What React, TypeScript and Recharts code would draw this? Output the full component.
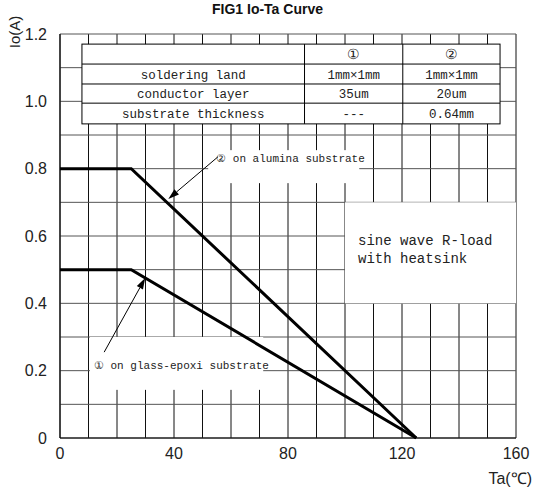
import React from "react";
import {
  LineChart,
  Line,
  XAxis,
  YAxis,
  CartesianGrid,
  ReferenceArea,
  ReferenceLine,
} from "recharts";

const temps = [0, 25, 125];
const alumina = [0.8, 0.8, 0];
const glassEpoxi = [0.5, 0.5, 0];

const xTicks = [0, 10, 20, 30, 40, 50, 60, 70, 80, 90, 100, 110, 120, 130, 140, 150, 160];
const xLabels = [0, 40, 80, 120, 160];
const yTicks = [0, 0.1, 0.2, 0.3, 0.4, 0.5, 0.6, 0.7, 0.8, 0.9, 1.0, 1.1, 1.2];
const yLabels = ["0", "", "0.2", "", "0.4", "", "0.6", "", "0.8", "", "1.0", "", "1.2"];

const tableHead = ["", "①", "②"];
const tableRows = [
  ["soldering land", "1mm×1mm", "1mm×1mm"],
  ["conductor layer", "35um", "20um"],
  ["substrate thickness", "---", "0.64mm"],
];

const data = temps.map((t, i) => ({ ta: t, a: alumina[i], g: glassEpoxi[i] }));

const mono = "'Liberation Mono', 'DejaVu Sans Mono', monospace";
const sans = "'Liberation Sans', Arial, sans-serif";

function TableShape(p: any) {
  const { x, y, width: w, height: h } = p;
  const rowY = [0, 0.25, 0.5, 0.74, 1].map((f) => y + f * h);
  const colX = [x, x + (w * 222) / 417, x + (w * 320) / 417, x + w];
  const all = [tableHead, ...tableRows];
  return (
    <g>
      <rect x={x} y={y} width={w} height={h} fill="#fff" stroke="#000" />
      {rowY.slice(1, 4).map((ry, i) => (
        <line key={i} x1={x} x2={x + w} y1={ry} y2={ry} stroke="#000" />
      ))}
      <line x1={colX[1]} x2={colX[1]} y1={y} y2={y + h} stroke="#000" />
      <line x1={colX[2]} x2={colX[2]} y1={y} y2={y + h} stroke="#000" />
      {all.map((row, r) =>
        row.map((cell, c) => (
          <text
            key={r + "-" + c}
            x={(colX[c] + colX[c + 1]) / 2}
            y={(rowY[r] + rowY[r + 1]) / 2 + 4.5}
            textAnchor="middle"
            fontFamily={mono}
            fontSize={r === 0 ? 14 : c === 0 ? 12.5 : 12.5}
            fill="#222"
          >
            {cell}
          </text>
        ))
      )}
    </g>
  );
}

function boxWithText(lines: string[], dx: number, dy: number, size: number, lh: number) {
  return (p: any) => (
    <g>
      <rect x={p.x} y={p.y} width={p.width} height={p.height} fill="#fff" />
      {lines.map((s, i) => (
        <text key={i} x={p.x + dx} y={p.y + dy + i * lh} fontFamily={mono} fontSize={size} fill="#222">
          {s}
        </text>
      ))}
    </g>
  );
}

function Arrow(p: any) {
  const { x1, y1, x2, y2 } = p;
  const ang = Math.atan2(y2 - y1, x2 - x1);
  const L = 11;
  const W = 3.5;
  const bx = x2 - L * Math.cos(ang);
  const by = y2 - L * Math.sin(ang);
  const nx = -Math.sin(ang) * W;
  const ny = Math.cos(ang) * W;
  return (
    <g>
      <line x1={x1} y1={y1} x2={bx} y2={by} stroke="#000" strokeWidth={1} />
      <polygon points={`${x2},${y2} ${bx + nx},${by + ny} ${bx - nx},${by - ny}`} fill="#000" />
    </g>
  );
}

export default function App() {
  return (
    <div style={{ position: "absolute", left: 0, top: 0, width: 535, height: 490, background: "#fff" }}>
      <div
        style={{
          position: "absolute",
          left: 0,
          width: 535,
          top: 1,
          textAlign: "center",
          fontFamily: sans,
          fontWeight: "bold",
          fontSize: 14,
          color: "#111",
        }}
      >
        FIG1 Io-Ta Curve
      </div>
      <div
        style={{
          position: "absolute",
          left: -10,
          top: 23,
          width: 50,
          height: 18,
          transform: "rotate(-90deg)",
          textAlign: "center",
          fontFamily: sans,
          fontSize: 15,
          color: "#222",
          lineHeight: "18px",
        }}
      >
        Io(A)
      </div>
      <div
        style={{
          position: "absolute",
          right: 3,
          top: 467,
          fontFamily: sans,
          fontSize: 16,
          color: "#222",
        }}
      >
        Ta(℃)
      </div>
      <LineChart width={535} height={490} data={data} margin={{ top: 34, right: 19, bottom: 0, left: 0 }}>
        <CartesianGrid horizontal={false} stroke="#111" strokeWidth={1} verticalValues={xTicks} />
        <CartesianGrid vertical={false} stroke="#555" strokeWidth={1} horizontalValues={yTicks} />
        <XAxis
          dataKey="ta"
          type="number"
          domain={[0, 160]}
          ticks={xTicks}
          interval={0}
          tickLine={false}
          axisLine={{ stroke: "#000" }}
          height={52}
          tickFormatter={(v: number) => (xLabels.includes(v) ? String(v) : "")}
          tick={{ fontSize: 16, fill: "#222", fontFamily: sans }}
          tickMargin={4}
        />
        <YAxis
          type="number"
          domain={[0, 1.2]}
          ticks={yTicks}
          interval={0}
          width={60}
          tickLine={false}
          axisLine={{ stroke: "#000" }}
          tickFormatter={(v: number) => yLabels[Math.round(v * 10)]}
          tick={{ fontSize: 16, fill: "#222", fontFamily: sans }}
          tickMargin={7}
        />
        <ReferenceArea x1={7.7} x2={154.4} y1={0.933} y2={1.17} shape={TableShape} ifOverflow="visible" />
        <ReferenceArea
          x1={100}
          x2={160}
          y1={0.4}
          y2={0.7}
          shape={boxWithText(["sine wave R-load", "with heatsink"], 13, 43, 14, 18)}
          ifOverflow="visible"
        />
        <ReferenceArea
          x1={52}
          x2={105}
          y1={0.757}
          y2={0.855}
          shape={boxWithText(["② on alumina substrate"], 8, 12, 11, 12)}
          ifOverflow="visible"
        />
        <ReferenceArea
          x1={10.5}
          x2={71.3}
          y1={0.143}
          y2={0.3}
          shape={boxWithText(["① on glass-epoxi substrate"], 4, 32, 11, 12)}
          ifOverflow="visible"
        />
        <ReferenceLine
          segment={[
            { x: 55.4, y: 0.835 },
            { x: 38, y: 0.71 },
          ]}
          shape={Arrow}
          ifOverflow="visible"
        />
        <ReferenceLine
          segment={[
            { x: 15.5, y: 0.255 },
            { x: 29.9, y: 0.475 },
          ]}
          shape={Arrow}
          ifOverflow="visible"
        />
        <Line dataKey="a" stroke="#000" strokeWidth={3} dot={false} isAnimationActive={false} type="linear" />
        <Line dataKey="g" stroke="#000" strokeWidth={3} dot={false} isAnimationActive={false} type="linear" />
      </LineChart>
    </div>
  );
}
